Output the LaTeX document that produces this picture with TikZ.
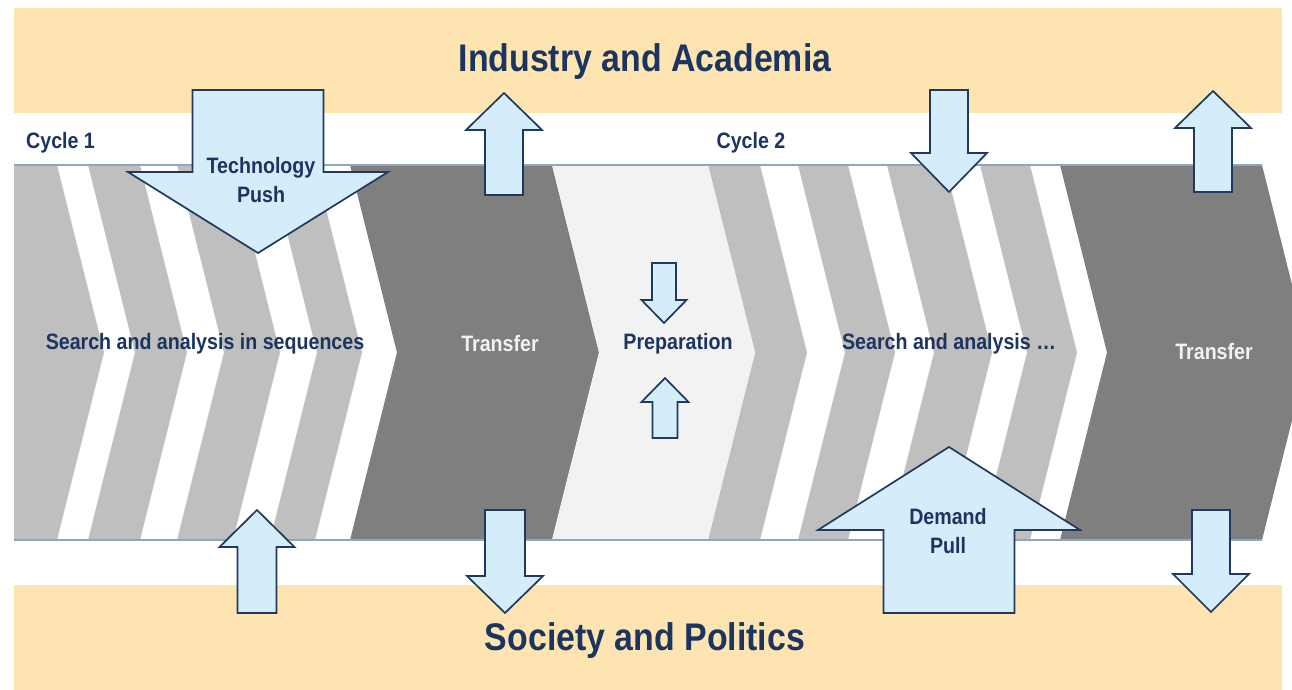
\documentclass[tikz,border=0pt]{standalone}
\usepackage{fontspec}
\setmainfont{Liberation Sans}[FakeStretch=0.88]
\usepackage{xcolor}
\usepackage{tikz}

\definecolor{navy}{HTML}{1B3560}
\definecolor{sand}{HTML}{FEE4B0}
\definecolor{stripegray}{HTML}{BFBFBF}
\definecolor{darkgray}{HTML}{7F7F7F}
\definecolor{prepgray}{HTML}{F2F2F2}
\definecolor{skyfill}{HTML}{D5ECFB}
\definecolor{arrowline}{HTML}{1F3A5C}
\definecolor{edgeline}{HTML}{8EA6BE}

% block arrow: centre x, tail y, head base y, tip y, half shaft, half head
\newcommand{\blockarrow}[6]{%
  \filldraw[blockarr] ({#1-#5},#2) -- ({#1-#5},#3) -- ({#1-#6},#3) -- (#1,#4)
    -- ({#1+#6},#3) -- ({#1+#5},#3) -- ({#1+#5},#2) -- cycle;}

\begin{document}
\begin{tikzpicture}[
    x=1pt, y=-1pt,
    band/.style={fill=sand},
    stripe/.style={fill=stripegray},
    transferbox/.style={fill=darkgray},
    edge/.style={draw=edgeline, line width=1.2pt},
    blockarr/.style={fill=skyfill, draw=arrowline, line width=1.7pt, line join=miter},
    headline/.style={font=\fontsize{38.5}{42}\selectfont\bfseries, text=navy, inner sep=0pt},
    lbl/.style={font=\fontsize{22.3}{29}\selectfont\bfseries, text=navy, align=center, inner sep=0pt},
    lightlbl/.style={lbl, text=prepgray}
]
\useasboundingbox (0,0) rectangle (1292,690);
\clip (0,0) rectangle (1292,690);
\fill[white] (0,0) rectangle (1292,690);

% Outer bands
\fill[band] (14,8) rectangle (1282,113);
\fill[band] (14,585) rectangle (1282,690);

% Process band: first stripe has a flat left side
\fill[stripe] (14,165) -- (57,165) -- (104,352.5) -- (57,540) -- (14,540) -- cycle;
\foreach \xl/\xr in {88/140, 177/233, 270/315, 708/760, 798/848, 887/945, 980/1030}
  \fill[stripe] (\xl,165) -- (\xr,165) -- ({\xr+47},352.5) -- (\xr,540)
    -- (\xl,540) -- ({\xl+47},352.5) -- cycle;
\foreach \xl/\xr in {350/552, 1060/1262}
  \fill[transferbox] (\xl,165) -- (\xr,165) -- ({\xr+47},352.5) -- (\xr,540)
    -- (\xl,540) -- ({\xl+47},352.5) -- cycle;
\fill[prepgray] (552,165) -- (708,165) -- (755,352.5) -- (708,540)
  -- (552,540) -- (599,352.5) -- cycle;
\draw[edge] (14,165) -- (1262,165);
\draw[edge] (14,540) -- (1262,540);

% Arrows in and out of the bands
\blockarrow{258}{90}{172}{253}{65.5}{130}
\blockarrow{504}{195}{130}{93}{19}{38}
\blockarrow{949}{90}{153}{192}{19}{38}
\blockarrow{1213}{192}{128}{91}{19}{38}
\blockarrow{257}{613}{547}{510}{19.5}{37.5}
\blockarrow{505}{510}{576}{613}{20}{38}
\blockarrow{949}{613}{530}{447}{65.5}{131}
\blockarrow{1211}{510}{574}{612}{19}{38}
\blockarrow{664}{263}{300}{323}{12}{22.5}
\blockarrow{665}{438}{402}{378}{12.5}{23.5}

% Labels
\node[headline] (industry) at (645,62) {Industry and Academia};
\node[headline] (society) at (645,641) {Society and Politics};
\node[lbl, anchor=west] (cycle1) at (26,143) {Cycle 1};
\node[lbl] (cycle2) at (751,143) {Cycle 2};
\node[lbl] (push) at (261,180) {Technology\\Push};
\node[lbl] (pull) at (948,531) {Demand\\Pull};
\node[lbl] (search1) at (205,344) {Search and analysis in sequences};
\node[lightlbl] (transfer1) at (500,344) {Transfer};
\node[lbl] (prep) at (678,344) {Preparation};
\node[lbl] (search2) at (949,344) {Search and analysis …};
\node[lightlbl] (transfer2) at (1214,352) {Transfer};

\end{tikzpicture}
\end{document}
